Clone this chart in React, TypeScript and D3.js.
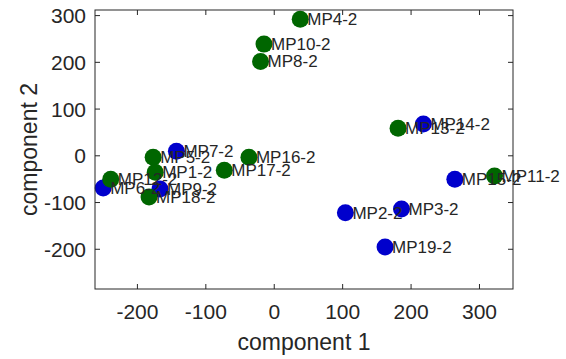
import React from 'react';
import * as d3 from 'd3';

// sample names, group (0 = blue, 1 = green), component scores
const names = [
  'MP1-2', 'MP2-2', 'MP3-2', 'MP4-2', 'MP5-2', 'MP6-2', 'MP7-2', 'MP8-2', 'MP9-2', 'MP10-2',
  'MP11-2', 'MP12-2', 'MP13-2', 'MP14-2', 'MP15-2', 'MP16-2', 'MP17-2', 'MP18-2', 'MP19-2'
];
const groups = [1, 0, 0, 1, 1, 0, 0, 1, 0, 1, 1, 1, 1, 0, 0, 1, 1, 1, 0];
const comp1 = [-174, 104, 186, 38, -177, -250, -143, -20, -167, -15, 322, -239, 181, 218, 264, -37, -73, -183, 162];
const comp2 = [-35, -122, -114, 292, -3, -69, 10, 202, -71, 239, -43, -50, 59, 68, -50, -3, -31, -88, -195];

const xTicks = [-200, -100, 0, 100, 200, 300];
const yTicks = [-200, -100, 0, 100, 200, 300];
const groupColors = ['#0000cc', '#006600'];

const W = 566;
const H = 359;
const margin = { top: 10, right: 53, bottom: 70, left: 95 };
const FONT = '"Liberation Sans", Arial, Helvetica, sans-serif';
const INK = '#262626';

const App = () => {
  const innerW = W - margin.left - margin.right;
  const innerH = H - margin.top - margin.bottom;

  const x = d3.scaleLinear().domain([-262, 349]).range([0, innerW]);
  const y = d3.scaleLinear().domain([-285, 312]).range([innerH, 0]);

  const points = names.map((n, i) => ({ name: n, g: groups[i], cx: x(comp1[i]), cy: y(comp2[i]) }));
  // blue first, then green on top
  const order = [...points].sort((a, b) => a.g - b.g);
  const tick = 5;

  return (
    <svg
      width={W}
      height={H}
      style={{ position: 'absolute', left: 0, top: 0, background: '#fff', fontFamily: FONT }}
    >
      <g transform={`translate(${margin.left},${margin.top})`}>
        {/* dots */}
        {order.map(p => (
          <circle key={`c-${p.name}`} cx={p.cx} cy={p.cy} r={8.5} fill={groupColors[p.g]} />
        ))}

        {/* labels */}
        {points.map(p => (
          <text key={`t-${p.name}`} x={p.cx + 7} y={p.cy + 6} fontSize={17} fill={INK}>
            {p.name}
          </text>
        ))}

        {/* box */}
        <rect x={0} y={0} width={innerW} height={innerH} fill="none" stroke={INK} strokeWidth={1} />

        {/* x ticks, mirrored */}
        {xTicks.map(t => (
          <g key={`xt-${t}`}>
            <line x1={x(t)} x2={x(t)} y1={innerH} y2={innerH - tick} stroke={INK} />
            <line x1={x(t)} x2={x(t)} y1={0} y2={tick} stroke={INK} />
            <text x={x(t)} y={innerH + 30} textAnchor="middle" fontSize={21} fill={INK}>
              {t}
            </text>
          </g>
        ))}

        {/* y ticks, mirrored */}
        {yTicks.map(t => (
          <g key={`yt-${t}`}>
            <line x1={0} x2={tick} y1={y(t)} y2={y(t)} stroke={INK} />
            <line x1={innerW} x2={innerW - tick} y1={y(t)} y2={y(t)} stroke={INK} />
            <text x={-9} y={y(t) + 7.5} textAnchor="end" fontSize={21} fill={INK}>
              {t}
            </text>
          </g>
        ))}

        {/* axis titles */}
        <text x={innerW / 2} y={innerH + 61} textAnchor="middle" fontSize={23} fill={INK}>
          component 1
        </text>
        <text
          transform={`translate(${-58},${innerH / 2}) rotate(-90)`}
          textAnchor="middle"
          fontSize={23}
          fill={INK}
        >
          component 2
        </text>
      </g>
    </svg>
  );
};

export default App;
